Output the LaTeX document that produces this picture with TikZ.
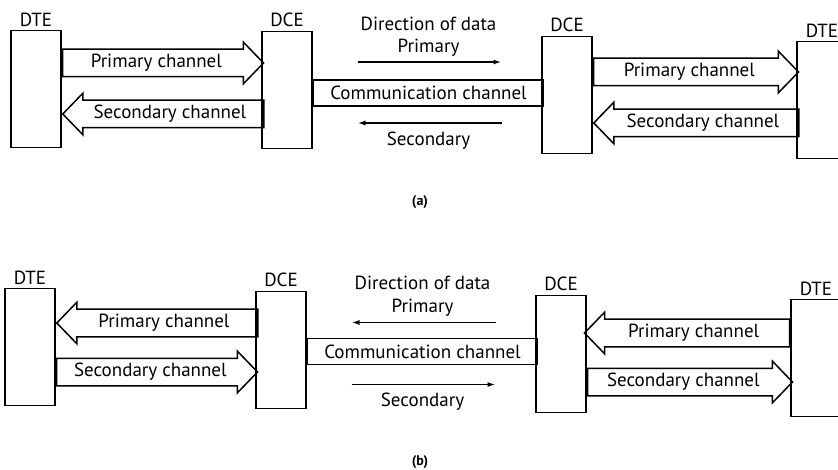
\documentclass[tikz,border=0pt]{standalone}
\usepackage{fontspec}
\setmainfont{PT Sans}
\usepackage{tikz}
\usetikzlibrary{positioning, calc, shapes.arrows, arrows.meta}
\tikzstyle{unit} = [rectangle, draw, line width=1.5pt, inner sep=0pt,
                 minimum width=50pt, minimum height=117pt]
\tikzstyle{fat} = [single arrow, draw, line width=1.5pt, inner xsep=2pt,
                 inner ysep=4.5pt, text height=13pt, text depth=4pt,
                 single arrow head extend=7pt, single arrow tip angle=92]
\tikzset{
	tag/.style={font=\fontsize{19}{21}\selectfont, above=0pt of #1},
	wire/.style={draw, line width=1.5pt, inner sep=0pt, minimum width=230pt,
		minimum height=26pt, anchor=west},
	dir/.style={line width=1.6pt, -{Latex[length=8pt, width=5pt]}},
	back/.style={shape border rotate=180},
}

\begin{document}
\begin{tikzpicture}[x=1pt, y=-1pt, font=\fontsize{19}{21}\selectfont]

\useasboundingbox (0,0) rectangle (838,470);

% (a)
\node [unit] at (36,89) (dteA) {};
\node [unit] at (287,90) (dceA) {};
\node [unit] at (567,95) (dceB) {};
\node [unit] at (822,100) (dteB) {};

\node [tag=dteA] (dteAl) {DTE};
\node [tag=dceA] (dceAl) {DCE};
\node [tag=dceB] (dceBl) {DCE};
\node [tag=dteB] (dteBl) {DTE};

\node [fat, minimum height=201pt, anchor=tail] at ($(dteA.east)+(0,-26)$) (priA) {Primary channel};
\node [fat, back, minimum height=201pt, anchor=tip] at ($(dteA.east)+(0,25)$) (secA) {Secondary channel};
\node [fat, minimum height=205pt, anchor=tail] at ($(dceB.east)+(0,-23)$) (priB) {Primary channel};
\node [fat, back, minimum height=205pt, anchor=tip] at ($(dceB.east)+(0,28)$) (secB) {Secondary channel};

\node [wire] at ($(dceA.east)+(0,3)$) (comA) {Communication channel};

\coordinate (pA1) at ($(comA.center)+(-71,-31)$);
\coordinate (pA2) at ($(comA.center)+(73,-31)$);
\coordinate (sA1) at ($(comA.center)+(73,30)$);
\coordinate (sA2) at ($(comA.center)+(-71,30)$);
\draw [dir] (pA1) -- (pA2);
\draw [dir] (sA1) -- (sA2);
\node at ($(comA.center)+(0,-69)$) (dirA) {Direction of data};
\node at ($(comA.center)+(0,-45)$) (prA) {Primary};
\node at ($(comA.center)+(0,48)$) (seA) {Secondary};

\node [font=\fontsize{14}{16}\selectfont\bfseries] at (420,202) (capA) {(a)};

% (b)
\node [unit] at (30,347) (dteC) {};
\node [unit] at (281,350) (dceC) {};
\node [unit] at (561,354) (dceD) {};
\node [unit] at (816,358) (dteD) {};

\node [tag=dteC] (dteCl) {DTE};
\node [tag=dceC] (dceCl) {DCE};
\node [tag=dceD] (dceDl) {DCE};
\node [tag=dteD] (dteDl) {DTE};

\node [fat, back, minimum height=201pt, anchor=tip] at ($(dteC.east)+(0,-24)$) (priC) {Primary channel};
\node [fat, minimum height=201pt, anchor=tail] at ($(dteC.east)+(0,25)$) (secC) {Secondary channel};
\node [fat, back, minimum height=205pt, anchor=tail] at ($(dteD.west)+(0,-25)$) (priD) {Primary channel};
\node [fat, minimum height=205pt, anchor=tail] at ($(dceD.east)+(0,28)$) (secD) {Secondary channel};

\node [wire] at ($(dceC.east)+(0,1.5)$) (comC) {Communication channel};

\coordinate (pC1) at ($(comC.center)+(73,-29)$);
\coordinate (pC2) at ($(comC.center)+(-71,-29)$);
\coordinate (sC1) at ($(comC.center)+(-71,33)$);
\coordinate (sC2) at ($(comC.center)+(73,33)$);
\draw [dir] (pC1) -- (pC2);
\draw [dir] (sC1) -- (sC2);
\node at ($(comC.center)+(0,-69)$) (dirC) {Direction of data};
\node at ($(comC.center)+(0,-44)$) (prC) {Primary};
\node at ($(comC.center)+(0,50)$) (seC) {Secondary};

\node [font=\fontsize{14}{16}\selectfont\bfseries] at (420,462) (capB) {(b)};

\end{tikzpicture}
\end{document}
